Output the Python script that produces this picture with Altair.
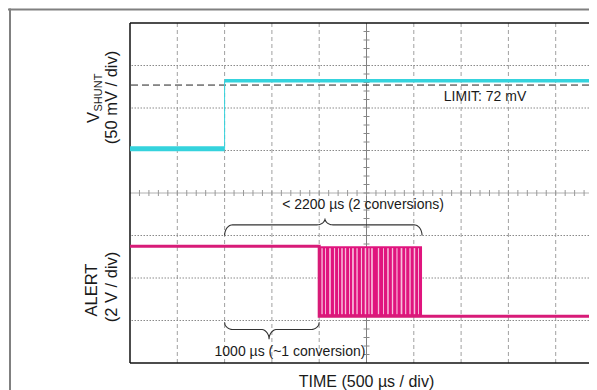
import altair as alt
import numpy as np
import pandas as pd

# ---------------- data ----------------
# time in microseconds, 500 us / div
time_grid_us = [500, 1000, 1500, 2000, 3000, 3500, 4000, 4500]
div_grid = [1, 2, 3, 5, 6, 7]
x_end_us = 4852

# V_SHUNT trace (mV), 50 mV / div
shunt_low_t = [0, 1000]
shunt_low_mv = [-3, -3]
shunt_step_t = [1000, 1000]
shunt_step_mv = [-3, 77]
shunt_high_t = [1000, 4852]
shunt_high_mv = [77, 77]
limit_mv = 72

# ALERT trace (V), 2 V / div
alert_t = [0, 2000, 2000, 3087, 4852]
alert_v = [3.3, 3.3, 0.0, 0.0, 0.0]
burst_start_us = 2000
burst_end_us = 3087
burst_low_v = 0.0
burst_high_v = 3.3
gap_centers_us = [2030, 2067, 2114, 2162, 2204, 2241, 2278, 2320, 2357, 2400,
                  2447, 2489, 2526, 2558, 2627, 2680, 2727, 2775, 2822, 2870,
                  2914, 2960, 3007, 3050]
gap_widths_us = [14, 10, 18, 12, 10, 16, 14, 10, 18, 14,
                 12, 16, 12, 18, 14, 10, 16, 14, 12, 18,
                 12, 14, 16, 10]

label_limit = "LIMIT: 72 mV"
label_long = "< 2200 µs (2 conversions)"
label_short = "1000 µs (~1 conversion)"
title_x = "TIME (500 µs / div)"

# ---------------- display mapping ----------------
W, H = 459, 340
SHUNT_ZERO_DIV, SHUNT_MV_PER_DIV = 5.1, 50.0
ALERT_ZERO_DIV, ALERT_V_PER_DIV = 1.1, 2.0
PX_X = W / x_end_us
PX_Y = H / 8.0

def sdiv(mv):
    return [SHUNT_ZERO_DIV + m / SHUNT_MV_PER_DIV for m in mv]

def adiv(v):
    return [ALERT_ZERO_DIV + a / ALERT_V_PER_DIV for a in v]

xs = alt.Scale(domain=[0, x_end_us], nice=False, zero=False)
ys = alt.Scale(domain=[0, 8], nice=False, zero=False)
X = lambda f: alt.X(f, type="quantitative", scale=xs, axis=None)
Y = lambda f: alt.Y(f, type="quantitative", scale=ys, axis=None)

FONT = "Liberation Sans"
CYAN = "#35d3dd"
MAG = "#d81b78"

layers = []

# outer figure frame (gray)
layers.append(alt.Chart(pd.DataFrame({"a": [0]})).mark_rule(color="#808080", strokeWidth=2).encode(
    x=alt.value(-122), x2=alt.value(W), y=alt.value(-13.5)))
layers.append(alt.Chart(pd.DataFrame({"a": [0]})).mark_rule(color="#808080", strokeWidth=2).encode(
    x=alt.value(-120), y=alt.value(-14.5), y2=alt.value(H + 27)))

# grid
layers.append(alt.Chart(pd.DataFrame({"t": time_grid_us})).mark_rule(
    color="#a0a0a0", strokeWidth=1, strokeDash=[4, 3]).encode(x=X("t")))
layers.append(alt.Chart(pd.DataFrame({"d": div_grid})).mark_rule(
    color="#8a8a8a", strokeWidth=1, strokeDash=[1.5, 1.5]).encode(y=Y("d")))

# center cross with minor ticks
layers.append(alt.Chart(pd.DataFrame({"t": [2500]})).mark_rule(color="#808080", strokeWidth=1).encode(x=X("t")))
layers.append(alt.Chart(pd.DataFrame({"d": [4]})).mark_rule(color="#b0b0b0", strokeWidth=1).encode(y=Y("d")))
tx = pd.DataFrame({"t": np.arange(100, x_end_us, 100)})
tx["y1"] = 4 - 3 / PX_Y
tx["y2"] = 4 + 3 / PX_Y
layers.append(alt.Chart(tx).mark_rule(color="#999999", strokeWidth=1).encode(x=X("t"), y=Y("y1"), y2="y2"))
ty = pd.DataFrame({"d": np.arange(0.2, 8, 0.2)})
ty["x1"] = 2500 - 3 / PX_X
ty["x2"] = 2500 + 3 / PX_X
layers.append(alt.Chart(ty).mark_rule(color="#888888", strokeWidth=1).encode(y=Y("d"), x=X("x1"), x2="x2"))

# plot frame (left, top, bottom)
layers.append(alt.Chart(pd.DataFrame({"t": [0]})).mark_rule(color="#111111", strokeWidth=1.5).encode(x=X("t")))
layers.append(alt.Chart(pd.DataFrame({"d": [0, 8]})).mark_rule(color="#111111", strokeWidth=1.5).encode(y=Y("d")))

# limit line
layers.append(alt.Chart(pd.DataFrame({"d": sdiv([limit_mv])})).mark_rule(
    color="#222222", strokeWidth=1, strokeDash=[7, 4]).encode(y=Y("d")))

# V_SHUNT trace
layers.append(alt.Chart(pd.DataFrame({"t": shunt_low_t, "d": sdiv(shunt_low_mv)})).mark_line(
    color=CYAN, strokeWidth=5).encode(x=X("t"), y=Y("d")))
layers.append(alt.Chart(pd.DataFrame({"t": shunt_step_t, "d": sdiv(shunt_step_mv)})).mark_line(
    color=CYAN, strokeWidth=1).encode(x=X("t"), y=Y("d")))
layers.append(alt.Chart(pd.DataFrame({"t": shunt_high_t, "d": sdiv(shunt_high_mv)})).mark_line(
    color=CYAN, strokeWidth=3.5).encode(x=X("t"), y=Y("d")))

# ALERT burst
lo, hi = adiv([burst_low_v, burst_high_v])
layers.append(alt.Chart(pd.DataFrame({"t1": [burst_start_us], "t2": [burst_end_us], "d1": [lo], "d2": [hi]})).mark_rect(
    color="#e0147e").encode(x=X("t1"), x2="t2", y=Y("d1"), y2="d2"))
gaps = pd.DataFrame({"c": gap_centers_us, "w": gap_widths_us})
gaps["t1"] = gaps["c"] - gaps["w"] / 2
gaps["t2"] = gaps["c"] + gaps["w"] / 2
gaps["d1"] = lo + 2 / PX_Y
gaps["d2"] = hi - 2 / PX_Y
layers.append(alt.Chart(gaps).mark_rect(color="#f7bddb").encode(x=X("t1"), x2="t2", y=Y("d1"), y2="d2"))

# ALERT trace
adf = pd.DataFrame({"t": alert_t, "d": adiv(alert_v), "i": range(len(alert_t))})
layers.append(alt.Chart(adf).mark_line(color=MAG, strokeWidth=3).encode(x=X("t"), y=Y("d"), order="i:Q"))

# braces
def brace(x0, x1, xc, y_end, y_h, y_tip, r_px=8, n=12):
    rx = r_px / PX_X
    th = np.linspace(0, np.pi / 2, n)
    pts = []
    pts += [(x0 + rx - rx * np.cos(a), y_end + (y_h - y_end) * np.sin(a)) for a in th]
    pts += [(xc - rx + rx * np.sin(a), y_tip + (y_h - y_tip) * np.cos(a)) for a in th]
    pts += [(xc + rx - rx * np.cos(a), y_tip + (y_h - y_tip) * np.sin(a)) for a in th]
    pts += [(x1 - rx + rx * np.sin(a), y_end + (y_h - y_end) * np.cos(a)) for a in th]
    return pd.DataFrame({"t": [p[0] for p in pts], "d": [p[1] for p in pts], "i": range(len(pts))})

b1 = brace(1000, burst_end_us, 2061, 3.00, 3.25, 3.40)
b2 = brace(1000, burst_start_us, 1470, 0.96, 0.79, 0.56)
for b in (b1, b2):
    layers.append(alt.Chart(b).mark_line(color="#333333", strokeWidth=1.1).encode(
        x=X("t"), y=Y("d"), order="i:Q"))

# annotation texts
def txt(label, t, d, size=14):
    return alt.Chart(pd.DataFrame({"t": [t], "d": [d], "s": [label]})).mark_text(
        font=FONT, fontSize=size, color="#1a1a1a", align="center", baseline="middle").encode(
        x=X("t"), y=Y("d"), text="s:N")

layers.append(txt(label_limit, 3753, 6.26))
layers.append(txt(label_long, 2463, 3.71))
layers.append(txt(label_short, 1691, 0.26))

# axis titles
def ptxt(label, x, y, size, align="center", baseline="middle", angle=0):
    return alt.Chart(pd.DataFrame({"s": [label]})).mark_text(
        font=FONT, fontSize=size, color="#1a1a1a", align=align, baseline=baseline, angle=angle).encode(
        x=alt.value(x), y=alt.value(y), text="s:N")

layers.append(ptxt(title_x, 236.5, 359, 16))
layers.append(ptxt("(50 mV / div)", -18.5, 74.5, 16.5, angle=270))
layers.append(ptxt("V", -31, 100, 16.5, align="left", baseline="alphabetic", angle=270))
layers.append(ptxt("SHUNT", -28, 88.5, 11, align="left", baseline="alphabetic", angle=270))
layers.append(ptxt("ALERT", -38, 267, 16.5, angle=270))
layers.append(ptxt("(2 V / div)", -18.5, 264, 16.5, angle=270))

chart = alt.layer(*layers).properties(
    width=W, height=H,
    padding={"left": 122, "top": 15, "right": 0, "bottom": 27},
    autosize=alt.AutoSizeParams(type="none"),
).configure_view(stroke=None)

chart.save("out.html", embed_options={"renderer": "svg", "actions": False})
